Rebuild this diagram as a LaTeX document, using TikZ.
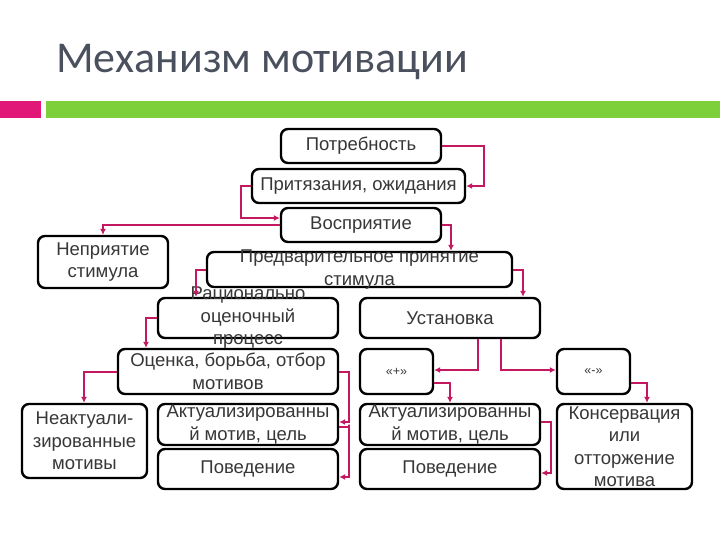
\documentclass[tikz,border=0pt]{standalone}
\usepackage{fontspec}
\setmainfont{Liberation Sans}
\newfontfamily\titlefont{Carlito}
\usetikzlibrary{arrows.meta}
\definecolor{conncol}{RGB}{196,24,96}
\definecolor{pinkbar}{RGB}{226,24,120}
\definecolor{greenbar}{RGB}{126,208,58}
\definecolor{txtcol}{RGB}{55,55,55}
\definecolor{titlecol}{RGB}{74,80,94}
\tikzset{
  x=1pt, y=-1pt,
  box/.style={draw=black, line width=2.4pt, rounded corners=7pt, inner sep=0pt},
  txt/.style={align=center, text=txtcol, font=\fontsize{18.5}{22.5}\selectfont, inner sep=0pt},
  conn/.style={draw=conncol, line width=2pt, -{Latex[length=6pt,width=6pt]}}
}
\newcommand\bx[6]{\node[box, minimum width=#4pt, minimum height=#5pt, label={[txt]center:#6}] (#1) at (#2,#3) {};}
\begin{document}
\begin{tikzpicture}
\useasboundingbox (0,0) rectangle (720,540);
\fill[white] (0,0) rectangle (720,540);
% header
\node[anchor=base west, inner sep=0pt, text=titlecol, font=\titlefont\fontsize{44}{50}\selectfont] (title) at (56,73) {Механизм мотивации};
\fill[pinkbar] (0,101) rectangle (41,118);
\fill[greenbar] (46,101) rectangle (720,118);
% boxes
\bx{potr}{361}{146}{160}{34}{Потребность}
\bx{prit}{358.5}{186}{213}{34}{Притязания, ожидания}
\bx{vosp}{361}{225}{160}{34}{Восприятие}
\bx{nepr}{103}{262}{130}{52}{Неприятие\\стимула}
\bx{pred}{359.5}{269.5}{305}{35}{Предварительное принятие\\стимула}
\bx{rac}{248}{318}{180}{40}{Рационально\\оценочный\\процесс}
\bx{ust}{450}{318}{180}{40}{Установка}
\bx{oc}{228}{371.5}{220}{45}{Оценка, борьба, отбор\\мотивов}
\bx{plus}{396.5}{371.5}{73}{45}{\fontsize{12.5}{14}\selectfont «+»}
\bx{minus}{593.5}{371.5}{73}{45}{\fontsize{12.5}{14}\selectfont «-»}
\bx{neakt}{84.5}{441}{125}{74}{Неактуали-\\зированные\\мотивы}
\bx{akt1}{248}{424.5}{180}{41}{Актуализированны\\й мотив, цель}
\bx{pov1}{248}{469}{180}{40}{Поведение}
\bx{akt2}{450}{424.5}{180}{41}{Актуализированны\\й мотив, цель}
\bx{pov2}{450}{469}{180}{40}{Поведение}
\bx{kons}{624.5}{446.5}{135}{85}{Консервация\\или\\отторжение\\мотива}
% connectors
\draw[conn] (potr.east) -| (484,0 |- potr.east) |- (prit.east);
\draw[conn] (prit.west) -| (241,0 |- prit.west) |- ([yshift=7pt]vosp.west);
\draw[conn] (vosp.west) -| (nepr.north);
\draw[conn] (vosp.east) -| (451,0 |- pred.north);
\draw[conn] (pred.east) -| (523,0 |- ust.north);
\draw[conn] (pred.west) -| (196,0 |- rac.north);
\draw[conn] (rac.west) -| (146,0 |- oc.north);
\draw[conn] (oc.west) -| (84,0 |- neakt.north);
\draw[conn] (oc.east) -| (349,0 |- oc.east) |- ([yshift=2.5pt]akt1.east);
\draw[conn] ([yshift=-2.5pt]akt1.east) -| (349,0 |- akt1.east) |- ([yshift=-8pt]pov1.east);
\draw[conn] (478,0 |- ust.south) |- ([yshift=1.5pt]plus.east);
\draw[conn] (501,0 |- ust.south) |- ([yshift=1.5pt]minus.west);
\draw[conn] ([yshift=-11.5pt]plus.east) -| (450,0 |- akt2.north);
\draw[conn] ([yshift=-11.5pt]minus.east) -| (647,0 |- kons.north);
\draw[conn] ([yshift=2.5pt]akt2.east) -| (551,0 |- akt2.east) |- ([yshift=-4pt]pov2.east);
\end{tikzpicture}
\end{document}
